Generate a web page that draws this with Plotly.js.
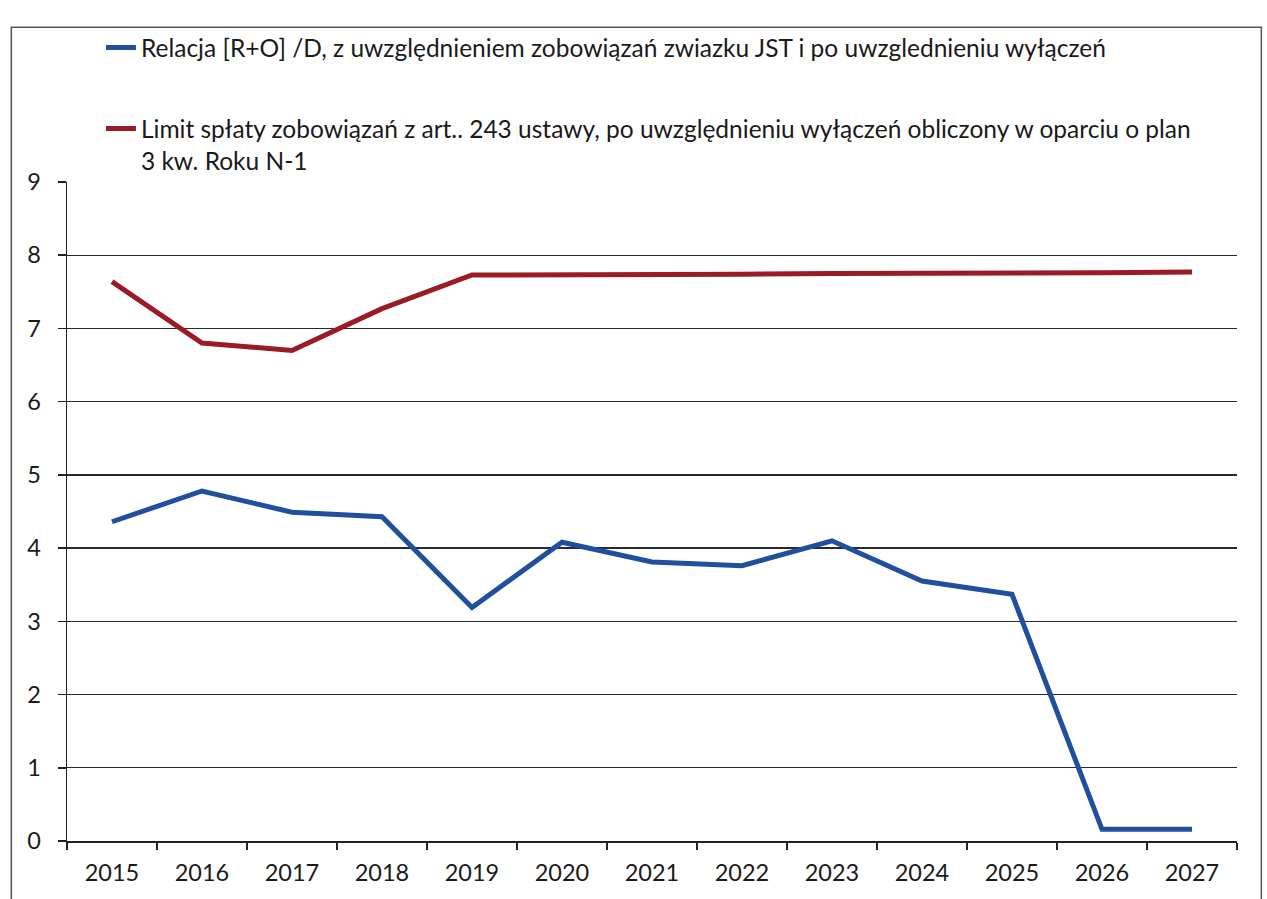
<!DOCTYPE html>
<html>
<head>
<meta charset="utf-8">
<script src="https://cdn.plot.ly/plotly-3.0.1.min.js"></script>
<style>
html,body{margin:0;padding:0;background:#fff;}
#chart{width:1267px;height:899px;}
</style>
</head>
<body>
<div id="chart"></div>
<script>
const years = ['2015','2016','2017','2018','2019','2020','2021','2022','2023','2024','2025','2026','2027'];
const relacja = [4.36, 4.78, 4.49, 4.43, 3.19, 4.08, 3.81, 3.76, 4.10, 3.55, 3.37, 0.16, 0.16];
const limit = [7.64, 6.80, 6.70, 7.27, 7.73, 7.73, 7.74, 7.74, 7.75, 7.75, 7.76, 7.76, 7.77];
const name1 = 'Relacja [R+O] /D, z uwzględnieniem zobowiązań zwiazku JST i po uwzglednieniu wyłączeń';
const name2 = 'Limit spłaty zobowiązań z art.. 243 ustawy, po uwzględnieniu wyłączeń obliczony w oparciu o plan<br>3 kw. Roku N-1';
const yTicks = [0,1,2,3,4,5,6,7,8,9];

const traces = [
  {x: years, y: relacja, type: 'scatter', mode: 'lines', name: name1, legendgroup: 'a',
   line: {color: '#1f4f9e', width: 5}},
  {x: years, y: limit, type: 'scatter', mode: 'lines', name: name2, legendgroup: 'b',
   line: {color: '#9a1b26', width: 5}}
];

const fontFam = 'Lato, "Open Sans", sans-serif';
const layout = {
  width: 1267, height: 899,
  margin: {l: 67, r: 30, t: 182, b: 58},
  paper_bgcolor: '#ffffff', plot_bgcolor: '#ffffff',
  font: {family: fontFam, size: 23, color: '#1a1a1a'},
  showlegend: true,
  legend: {x: 0.029, xanchor: 'left', y: 1.238, yanchor: 'top',
           traceorder: 'grouped', tracegroupgap: 46, valign: 'top',
           font: {family: fontFam, size: 24.5, color: '#1a1a1a'},
           bgcolor: 'rgba(0,0,0,0)', itemwidth: 30},
  xaxis: {type: 'category', range: [-0.5, 12.5], tickson: 'boundaries',
          ticks: 'outside', ticklen: 7, tickcolor: '#222', tickwidth: 1.5,
          ticklabelstandoff: 10,
          showline: true, linecolor: '#222', linewidth: 1.5,
          showgrid: false, zeroline: false,
          tickfont: {family: fontFam, size: 23.5, color: '#1a1a1a'}},
  yaxis: {range: [0, 9], tickvals: yTicks, ticks: 'outside', ticklen: 8,
          tickcolor: '#222', tickwidth: 1.5, ticklabelstandoff: 12,
          showline: true, linecolor: '#222', linewidth: 1.5,
          showgrid: true, gridcolor: '#2a2a2a', gridwidth: 1.4, zeroline: false,
          tickfont: {family: fontFam, size: 23.5, color: '#1a1a1a'}},
  shapes: [
    {type: 'rect', xref: 'paper', yref: 'paper', x0: -0.0476, x1: 1.0208, y0: -0.12, y1: 1.235,
     line: {color: '#555', width: 1.5}, fillcolor: 'rgba(0,0,0,0)', layer: 'below'}
  ]
};

Plotly.newPlot('chart', traces, layout, {displayModeBar: false, staticPlot: true});
</script>
</body>
</html>
